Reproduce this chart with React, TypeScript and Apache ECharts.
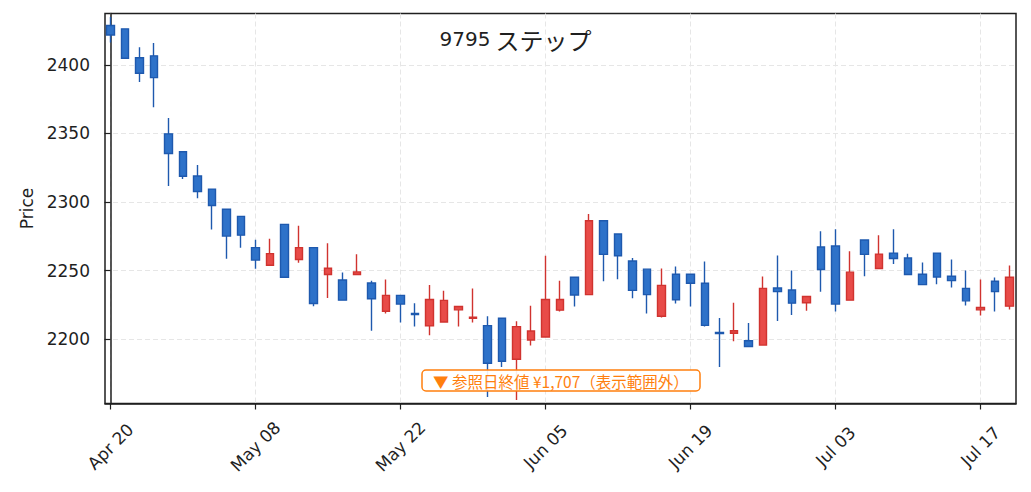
import React, { useEffect, useRef } from "react";
import * as echarts from "echarts";

const dates = [
  "2026-04-20", "2026-04-21", "2026-04-22", "2026-04-23", "2026-04-24",
  "2026-04-27", "2026-04-28", "2026-04-30", "2026-05-01", "2026-05-07",
  "2026-05-08", "2026-05-11", "2026-05-12", "2026-05-13", "2026-05-14",
  "2026-05-15", "2026-05-18", "2026-05-19", "2026-05-20", "2026-05-21",
  "2026-05-22", "2026-05-25", "2026-05-26", "2026-05-27", "2026-05-28",
  "2026-05-29", "2026-06-01", "2026-06-02", "2026-06-03", "2026-06-04",
  "2026-06-05", "2026-06-08", "2026-06-09", "2026-06-10", "2026-06-11",
  "2026-06-12", "2026-06-15", "2026-06-16", "2026-06-17", "2026-06-18",
  "2026-06-19", "2026-06-22", "2026-06-23", "2026-06-24", "2026-06-25",
  "2026-06-26", "2026-06-29", "2026-06-30", "2026-07-01", "2026-07-02",
  "2026-07-03", "2026-07-06", "2026-07-07", "2026-07-08", "2026-07-09",
  "2026-07-10", "2026-07-13", "2026-07-14", "2026-07-15", "2026-07-16",
  "2026-07-17", "2026-07-21", "2026-07-22",
];

const opens = [
  2428.7, 2426.3, 2405.2, 2406.6, 2349.7, 2336.7, 2319.0, 2309.4, 2294.7, 2289.5,
  2266.7, 2253.9, 2283.7, 2258.1, 2266.7, 2247.1, 2243.1, 2247.1, 2240.9, 2220.3,
  2231.9, 2218.6, 2209.6, 2212.5, 2221.3, 2215.2, 2209.8, 2215.2, 2185.3, 2199.3,
  2201.5, 2221.1, 2245.1, 2232.4, 2286.3, 2276.7, 2256.9, 2251.0, 2216.7, 2247.3,
  2247.3, 2240.7, 2204.9, 2204.2, 2198.8, 2195.6, 2237.3, 2235.8, 2226.5, 2267.2,
  2267.9, 2228.4, 2272.3, 2251.5, 2262.7, 2259.1, 2247.3, 2262.7, 2245.8, 2237.0,
  2221.3, 2242.2, 2224.0,
];

const closes = [
  2421.8, 2404.9, 2393.9, 2390.7, 2335.4, 2318.8, 2307.7, 2297.4, 2275.1, 2275.8,
  2257.6, 2262.3, 2245.1, 2266.7, 2226.0, 2251.7, 2228.4, 2249.0, 2229.4, 2231.9,
  2225.5, 2217.8, 2228.9, 2228.2, 2223.8, 2216.0, 2182.4, 2183.8, 2209.1, 2205.9,
  2228.9, 2228.9, 2232.1, 2286.3, 2261.8, 2260.8, 2235.5, 2232.4, 2239.2, 2228.7,
  2240.7, 2210.0, 2204.0, 2206.1, 2194.6, 2237.0, 2234.6, 2226.2, 2231.1, 2250.7,
  2225.5, 2248.8, 2261.8, 2262.0, 2258.8, 2247.1, 2239.7, 2245.3, 2242.6, 2227.9,
  2223.0, 2234.6, 2245.1,
];

const lows = [
  2416.4, 2404.9, 2387.5, 2369.1, 2311.6, 2316.8, 2302.8, 2280.0, 2258.6, 2266.7,
  2251.3, 2253.9, 2245.1, 2255.7, 2224.0, 2229.9, 2228.4, 2247.1, 2206.1, 2218.6,
  2212.0, 2209.1, 2202.7, 2212.5, 2209.1, 2212.0, 2157.8, 2179.7, 2155.6, 2195.3,
  2201.5, 2220.1, 2223.8, 2232.4, 2242.2, 2243.6, 2229.7, 2218.6, 2215.7, 2226.0,
  2223.8, 2209.1, 2179.7, 2198.5, 2194.6, 2195.6, 2213.2, 2217.6, 2220.6, 2234.6,
  2220.1, 2228.4, 2245.8, 2251.5, 2254.7, 2247.1, 2239.7, 2240.0, 2237.7, 2224.5,
  2217.2, 2220.1, 2221.6,
];

const highs = [
  2434.9, 2426.3, 2412.8, 2416.0, 2361.2, 2336.7, 2326.9, 2309.4, 2294.7, 2289.5,
  2272.4, 2273.1, 2283.7, 2282.7, 2266.7, 2269.9, 2248.5, 2261.8, 2242.6, 2243.4,
  2231.9, 2226.2, 2239.5, 2235.3, 2223.8, 2236.8, 2216.7, 2215.2, 2213.0, 2224.3,
  2260.8, 2242.6, 2245.1, 2291.2, 2286.3, 2276.7, 2259.1, 2251.0, 2251.5, 2252.9,
  2247.3, 2256.6, 2215.4, 2226.5, 2211.8, 2245.6, 2261.0, 2250.0, 2231.1, 2278.7,
  2280.1, 2264.0, 2272.3, 2275.7, 2280.1, 2262.3, 2255.9, 2262.7, 2258.1, 2250.0,
  2243.4, 2244.9, 2253.7,
];

const dateTickIndices = [0, 10, 20, 30, 40, 50, 60];
const priceTicks = [2200, 2250, 2300, 2350, 2400];
const MONTHS = ["Jan", "Feb", "Mar", "Apr", "May", "Jun", "Jul", "Aug", "Sep", "Oct", "Nov", "Dec"];

const titleCode = "9795";
const titleName = "ステップ";
const noteText = "▼ 参照日終値 ¥1,707（表示範囲外）";
const yName = "Price";

const LATIN = '"DejaVu Sans", "Noto Sans CJK JP", sans-serif';
const CJK = '"Noto Sans CJK JP", "DejaVu Sans", sans-serif';
const INK = "#1f1f1f";

function fmtDate(i: number): string {
  const s = dates[i];
  if (!s) return "";
  const m = parseInt(s.slice(5, 7), 10);
  return MONTHS[m - 1] + " " + s.slice(8, 10);
}

export default function App() {
  const ref = useRef<HTMLDivElement>(null);
  useEffect(() => {
    document.body.style.margin = "0";
    const chart = echarts.init(ref.current!, null, { renderer: "svg" });
    const data = dates.map((_, i) => [i, opens[i], closes[i], lows[i], highs[i]]);
    chart.setOption({
      animation: false,
      backgroundColor: "#ffffff",
      title: [
        {
          left: "center",
          top: 22,
          text: `{a|${titleCode}} {b|${titleName}}`,
          textStyle: {
            fontWeight: "normal",
            rich: {
              a: { fontFamily: LATIN, fontSize: 20, fontWeight: "normal", color: INK },
              b: { fontFamily: CJK, fontSize: 24, fontWeight: "normal", color: INK },
            },
          },
        },
        {
          left: 422,
          top: 370,
          text: noteText,
          padding: [3, 11],
          backgroundColor: "rgba(255,255,255,0.9)",
          borderColor: "#ff7f0e",
          borderWidth: 1.5,
          borderRadius: 4,
          textStyle: { fontFamily: CJK, fontSize: 15.5, fontWeight: "normal", color: "#ff7f0e" },
        },
      ],
      grid: {
        left: 105,
        top: 13.5,
        width: 911,
        height: 390,
        show: true,
        borderColor: INK,
        borderWidth: 1.5,
        backgroundColor: "transparent",
        containLabel: false,
        outerBoundsMode: "none",
      },
      xAxis: {
        type: "value",
        min: -0.38,
        max: 62.45,
        axisLine: { show: true, onZero: false, lineStyle: { color: INK, width: 1.5 } },
        axisTick: { show: true, customValues: dateTickIndices, length: 6, lineStyle: { color: INK, width: 1.2 } },
        axisLabel: {
          customValues: dateTickIndices,
          formatter: (v: number) => fmtDate(Math.round(v)),
          rotate: 45,
          align: "center",
          verticalAlign: "middle",
          margin: 43,
          fontFamily: LATIN,
          fontSize: 17,
          color: INK,
        },
        splitLine: { show: true, lineStyle: { color: "#e6e6e6", type: [5, 3], width: 1 } },
      },
      yAxis: {
        type: "value",
        min: 2153,
        max: 2437.5,
        name: yName,
        nameLocation: "middle",
        nameGap: 68,
        nameRotate: 90,
        nameTextStyle: { fontFamily: LATIN, fontSize: 17, color: INK },
        axisLine: { show: true, lineStyle: { color: INK, width: 1.5 } },
        axisTick: { show: true, customValues: priceTicks, length: 6, lineStyle: { color: INK, width: 1.2 } },
        axisLabel: {
          customValues: priceTicks,
          formatter: (v: number) => String(Math.round(v)),
          margin: 15,
          fontFamily: LATIN,
          fontSize: 17,
          color: INK,
        },
        splitLine: { show: true, lineStyle: { color: "#e6e6e6", type: [5, 3], width: 1 } },
      },
      series: [
        {
          type: "candlestick",
          data,
          encode: { x: 0, y: [1, 2, 3, 4] },
          barWidth: 8,
          itemStyle: {
            color: "#E84B48",
            color0: "#2E72C9",
            borderColor: "#D0332F",
            borderColor0: "#1E59AE",
            borderWidth: 1.4,
          },
        },
      ],
    });
    return () => chart.dispose();
  }, []);
  return <div ref={ref} style={{ width: 1031, height: 492 }} />;
}
